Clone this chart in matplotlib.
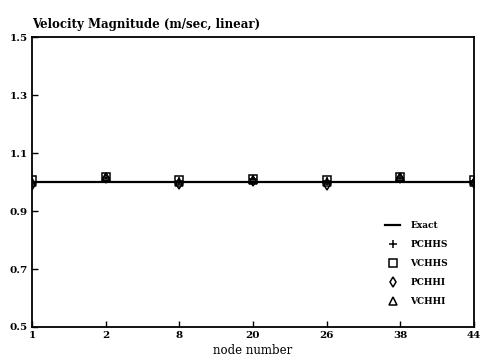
import numpy as np
import matplotlib; matplotlib.use("Agg"); import matplotlib.pyplot as plt

# node numbers (plotted at equal spacing)
nodes = ["1", "2", "8", "20", "26", "38", "44"]
exact = [1.0, 1.0, 1.0, 1.0, 1.0, 1.0, 1.0]
pchhs = [1.000, 1.015, 1.005, 1.010, 1.005, 1.015, 1.005]
vchhs = [1.008, 1.017, 1.008, 1.012, 1.008, 1.017, 1.008]
pchhi = [0.990, 1.015, 0.993, 1.005, 0.990, 1.015, 0.995]
vchhi = [1.000, 1.018, 1.000, 1.008, 1.000, 1.018, 1.000]
yticks = [0.5, 0.7, 0.9, 1.1, 1.3, 1.5]

plt.rcParams.update({"font.family": "DejaVu Serif", "font.weight": "bold"})
fig = plt.figure(figsize=(4.82, 3.6), dpi=100)
ax = fig.add_axes([0.0664, 0.0917, 0.9166, 0.8053])
x = np.arange(len(nodes))

ax.plot(x, exact, "-", color="black", lw=1.6, label="Exact")
mk = dict(ls="none", mfc="none", mec="black", mew=1.1, ms=5.5)
ax.plot(x, pchhs, marker="+", label="PCHHS", **mk)
ax.plot(x, vchhs, marker="s", label="VCHHS", **mk)
ax.plot(x, pchhi, marker="d", label="PCHHI", **mk)
ax.plot(x, vchhi, marker="^", label="VCHHI", **mk)

ax.set_xlim(0, len(nodes) - 1)
ax.set_ylim(0.5, 1.5)
ax.set_xticks(x); ax.set_xticklabels(nodes)
ax.set_yticks(yticks); ax.set_yticklabels([f"{v:.1f}" for v in yticks])
ax.tick_params(direction="in", length=4, width=1, labelsize=7.5, pad=3)
for s in ax.spines.values():
    s.set_linewidth(1.3)

ax.text(0.0, 1.02, "Velocity Magnitude (m/sec, linear)", transform=ax.transAxes,
        fontsize=8.5, fontweight="semibold", ha="left", va="bottom")
ax.set_xlabel("node number", fontsize=8.5, fontweight="normal", labelpad=3)

leg = ax.legend(loc="lower right", bbox_to_anchor=(0.96, 0.045), frameon=False,
                fontsize=6.5, handlelength=1.7, labelspacing=1.1, handletextpad=1.1)
fig.savefig("out.png", dpi=100)
